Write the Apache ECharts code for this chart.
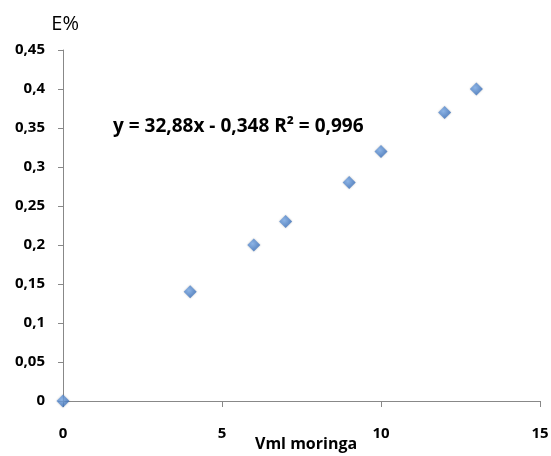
<!DOCTYPE html>
<html>
<head>
<meta charset="utf-8">
<script src="https://cdn.jsdelivr.net/npm/echarts@6/dist/echarts.min.js"></script>
<style>
  html, body { margin: 0; padding: 0; background: #fff; }
  #chart { width: 551px; height: 456px; }
</style>
</head>
<body>
<div id="chart"></div>
<script>
/** données */
const vml = [0, 4, 6, 7, 9, 10, 12, 13]
const ePct = [0, 0.14, 0.2, 0.23, 0.28, 0.32, 0.37, 0.4]
const equation = "y = 32,88x - 0,348 R² = 0,996"
const xName = "Vml moringa"

/** virgule décimale */
function fmt(v) {
    return String(+v.toFixed(2)).replace(".", ",")
}

let chart = echarts.init(document.getElementById("chart"))

let labelStyle = {
    color: "#000",
    fontFamily: "Open Sans",
    fontWeight: "bold",
    fontSize: 15
}

chart.setOption({
    animation: false,
    title: [{
        text: equation,
        left: 108,
        top: 112,
        textStyle: {
            fontFamily: "Open Sans",
            fontWeight: "bold",
            fontSize: 19,
            color: "#000"
        }
    }, {
        // nom de l'axe x, collé sous les graduations comme dans l'original
        text: xName,
        left: 255,
        top: 436,
        padding: 0,
        textStyle: {
            fontFamily: "Open Sans",
            fontWeight: "bold",
            fontSize: 16,
            color: "#000"
        }
    }],
    grid: { left: 63, right: 11, top: 50, bottom: 55, outerBoundsMode: "none", containLabel: false },
    xAxis: {
        type: "value",
        min: 0,
        max: 15,
        interval: 5,
        axisLine: { lineStyle: { color: "#888" } },
        axisTick: { length: 6, lineStyle: { color: "#888" } },
        splitLine: { show: false },
        axisLabel: Object.assign({ margin: 25 }, labelStyle)
    },
    yAxis: {
        type: "value",
        min: 0,
        max: 0.45,
        interval: 0.05,
        name: "E%",
        nameLocation: "end",
        nameGap: 16,
        nameTextStyle: {
            color: "#000",
            fontFamily: "Open Sans",
            fontSize: 20,
            align: "right",
            padding: [0, -16, 0, 0]
        },
        axisLine: { show: true, lineStyle: { color: "#888" } },
        axisTick: { show: true, length: 5, lineStyle: { color: "#888" } },
        splitLine: { show: false },
        axisLabel: Object.assign({ margin: 18, formatter: fmt }, labelStyle)
    },
    series: [{
        type: "scatter",
        data: vml.map((x, i) => [x, ePct[i]]),
        symbol: "diamond",
        symbolSize: 13,
        itemStyle: {
            color: new echarts.graphic.RadialGradient(0.4, 0.4, 0.7, [
                { offset: 0, color: "#7fb0ee" },
                { offset: 1, color: "#2f66b3" }
            ]),
            shadowBlur: 2,
            shadowColor: "rgba(0,0,0,0.3)"
        }
    }]
})
</script>
</body>
</html>
